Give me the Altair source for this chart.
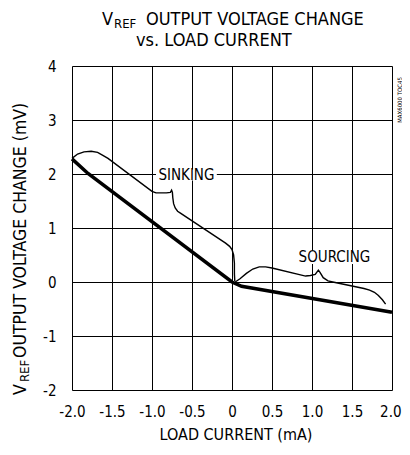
import altair as alt
import pandas as pd

FONT = "DejaVu Sans Condensed, DejaVu Sans, sans-serif"

# Thick line (reference trace)
thick_x = [-2.0, -1.8, 0.0, 0.12, 2.0]
thick_y = [2.28, 2.01, 0.0, -0.08, -0.56]

# Thin line, sinking region
sink_x = [-2.0, -1.93, -1.85, -1.76, -1.68, -1.62, -1.55, -1.0, -0.95, -0.82, -0.77,
          -0.755, -0.745, -0.74, -0.73, -0.71, -0.68, -0.64, -0.08, -0.03, 0.0, 0.02,
          0.03, 0.03, 0.035]
sink_y = [2.29, 2.37, 2.41, 2.42, 2.40, 2.35, 2.29, 1.68, 1.65, 1.65, 1.66,
          1.70, 1.66, 1.56, 1.45, 1.37, 1.31, 1.27, 0.72, 0.66, 0.60, 0.50,
          0.35, 0.15, 0.02]

# Thin line, sourcing region
source_x = [0.04, 0.1, 0.18, 0.26, 0.34, 0.42, 0.5, 0.92, 0.98, 1.04, 1.08, 1.1,
            1.14, 1.2, 1.26, 1.65, 1.72, 1.78, 1.83, 1.88, 1.92]
source_y = [0.0, 0.06, 0.16, 0.24, 0.28, 0.28, 0.26, 0.11, 0.12, 0.14, 0.22, 0.18,
            0.08, 0.02, 0.0, -0.12, -0.15, -0.19, -0.25, -0.33, -0.41]

label_text = ["SINKING", "SOURCING"]
label_x = [-0.57, 1.28]
label_y = [1.98, 0.46]

x_ticks = [-2.0, -1.5, -1.0, -0.5, 0.0, 0.5, 1.0, 1.5, 2.0]
y_ticks = [-2, -1, 0, 1, 2, 3, 4]

W, H = 320, 324

thick_df = pd.DataFrame({"x": thick_x, "y": thick_y, "i": range(len(thick_x))})
sink_df = pd.DataFrame({"x": sink_x, "y": sink_y, "i": range(len(sink_x))})
source_df = pd.DataFrame({"x": source_x, "y": source_y, "i": range(len(source_x))})
lab_df = pd.DataFrame({"t": label_text, "x": label_x, "y": label_y,
                       "s": [3700, 5700]})

xs = alt.Scale(domain=[-2, 2], nice=False, zero=False)
ys = alt.Scale(domain=[-2, 4], nice=False, zero=False)

xax = alt.Axis(values=x_ticks, grid=True, domain=False, ticks=False, title=None,
               labelExpr="datum.value == 0 ? '0' : (datum.value < 0 ? '-' : '') + format(abs(datum.value), '.1f')",
               labelPadding=14, labelFontSize=15, labelFont=FONT, labelColor="black",
               gridColor="black", gridWidth=1, gridOpacity=1,
               labelFlush=False, labelOverlap=False,
               labelAlign={"expr": "datum.value >= 2 ? 'right' : 'center'"},
               labelOffset={"expr": "datum.value >= 2 ? 9 : 0"})
yax = alt.Axis(values=y_ticks, grid=True, domain=False, ticks=False, title=None,
               labelExpr="(datum.value < 0 ? '-' : '') + format(abs(datum.value), 'd')",
               labelPadding=16, labelFontSize=15, labelFont=FONT, labelColor="black",
               gridColor="black", gridWidth=1, gridOpacity=1, labelFlush=False,
               labelOverlap=False)


def X():
    return alt.X("x:Q", scale=xs, axis=xax)


def Y():
    return alt.Y("y:Q", scale=ys, axis=yax)


thick = alt.Chart(thick_df).mark_line(color="black", strokeWidth=3.5).encode(
    x=X(), y=Y(), order="i:Q")
sink = alt.Chart(sink_df).mark_line(color="black", strokeWidth=1.4).encode(
    x=X(), y=Y(), order="i:Q")
source = alt.Chart(source_df).mark_line(color="black", strokeWidth=1.4).encode(
    x=X(), y=Y(), order="i:Q")

box = alt.Chart(lab_df).mark_point(
    shape="M-1,-0.18L1,-0.18L1,0.18L-1,0.18Z", filled=True, fill="white",
    opacity=1, strokeWidth=0).encode(
    x=X(), y=Y(), size=alt.Size("s:Q", scale=None, legend=None))
labels = alt.Chart(lab_df).mark_text(font=FONT, fontSize=15, color="black",
                                     baseline="middle", align="center").encode(
    x=X(), y=Y(), text="t:N")

one = pd.DataFrame({"a": [0]})


def txt(s, x, y, size, angle=0, align="left", baseline="alphabetic"):
    return alt.Chart(one).mark_text(text=s, font=FONT, fontSize=size, color="black",
                                    align=align, baseline=baseline, angle=angle).encode(
        x=alt.value(x), y=alt.value(y))


annot = [
    txt("V", 30, -41, 18),
    txt("REF", 42, -38, 13),
    txt("OUTPUT VOLTAGE CHANGE", 74, -41, 18),
    txt("vs. LOAD CURRENT", 64, -20, 18),
    txt("LOAD CURRENT (mA)", 164, 374, 16, align="center"),
    txt("V", -46, 329, 17.5, angle=270),
    txt("REF", -43, 316, 13, angle=270),
    txt("OUTPUT VOLTAGE CHANGE (mV)", -46, 292, 17.5, angle=270),
    txt("MAX6000 TOC45", 328, 34, 6, angle=270, align="center", baseline="middle"),
]

chart = alt.layer(thick, sink, source, box, labels, *annot).properties(
    width=W, height=H,
    autosize=alt.AutoSizeParams(type="none"),
    padding={"left": 64, "top": 58, "right": 10, "bottom": 53},
).configure_view(stroke="black", strokeWidth=4).configure_axis(
    labelOverlap=False).configure(background="white")

chart.save("out.html", embed_options={"renderer": "svg", "actions": False})
